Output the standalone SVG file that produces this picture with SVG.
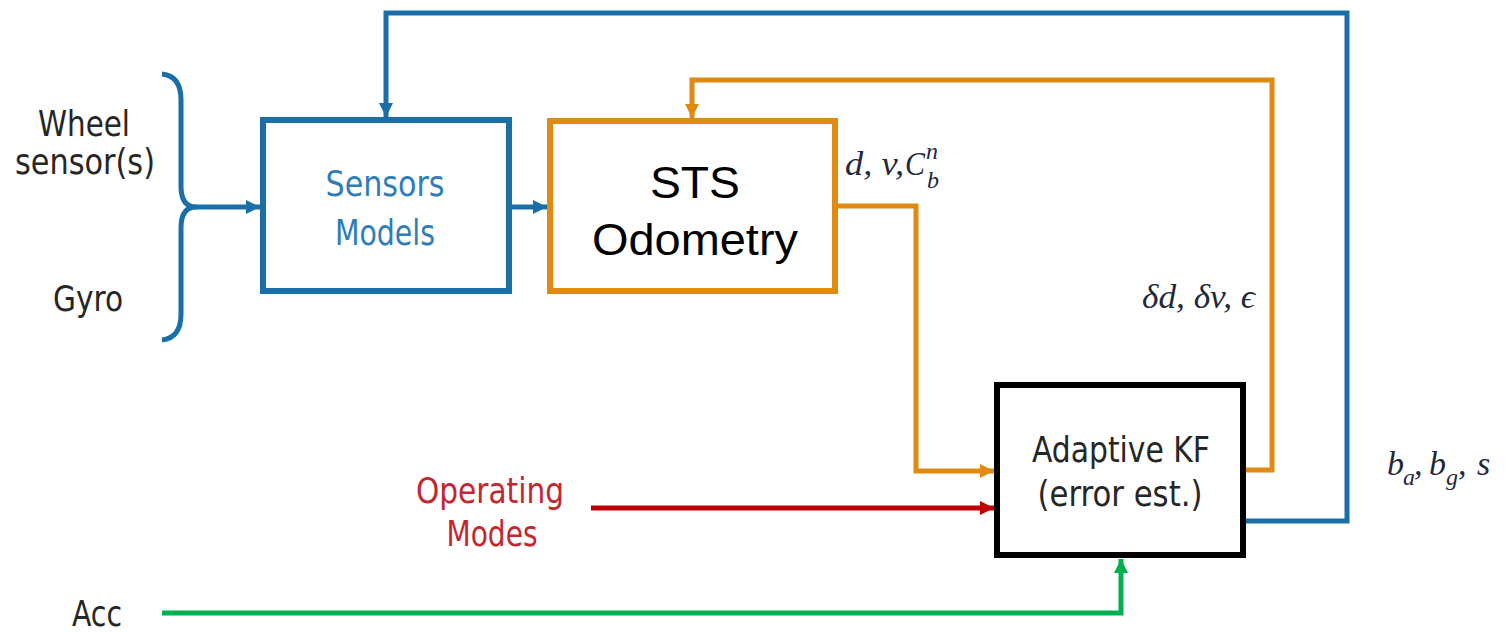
<svg xmlns="http://www.w3.org/2000/svg" width="1507" height="632" viewBox="0 0 1507 632">
<style>
.lbl{font-family:"DejaVu Sans Condensed","DejaVu Sans",sans-serif;font-size:36px;fill:#262626}
.blue{fill:#2e7db8}
.red{fill:#c3262e}
.sts{font-family:"Liberation Sans",Arial,sans-serif;font-size:45px;fill:#000}
.math{font-family:"Liberation Serif","DejaVu Serif",serif;font-style:italic;font-size:34px;fill:#1f2a3a}
.msub{font-family:"Liberation Serif","DejaVu Serif",serif;font-style:italic;font-size:24px;fill:#1f2a3a}
.c{fill:none;stroke-width:5;stroke-linejoin:miter}
.cb{stroke:#1a6fa8}
.co{stroke:#e08a12}
.cr{stroke:#c00000}
.cg{stroke:#00b04f}
.box{fill:#fff;stroke-width:6}
</style>
<defs>
<marker id="ab" viewBox="0 0 10 10" refX="10" refY="5" markerUnits="userSpaceOnUse" markerWidth="15" markerHeight="14" orient="auto"><path d="M0,0L10,5L0,10z" fill="#1a6fa8"/></marker>
<marker id="ao" viewBox="0 0 10 10" refX="10" refY="5" markerUnits="userSpaceOnUse" markerWidth="15" markerHeight="14" orient="auto"><path d="M0,0L10,5L0,10z" fill="#e08a12"/></marker>
<marker id="ar" viewBox="0 0 10 10" refX="10" refY="5" markerUnits="userSpaceOnUse" markerWidth="15" markerHeight="14" orient="auto"><path d="M0,0L10,5L0,10z" fill="#c00000"/></marker>
<marker id="ag" viewBox="0 0 10 10" refX="10" refY="5" markerUnits="userSpaceOnUse" markerWidth="15" markerHeight="14" orient="auto"><path d="M0,0L10,5L0,10z" fill="#00b04f"/></marker>
</defs>
<rect width="1507" height="632" fill="#fff"/>

<g id="inputs">
<text class="lbl" x="84" y="136" text-anchor="middle" textLength="92" lengthAdjust="spacingAndGlyphs">Wheel</text>
<text class="lbl" x="85" y="174" text-anchor="middle" textLength="140" lengthAdjust="spacingAndGlyphs">sensor(s)</text>
<text class="lbl" x="88" y="311" text-anchor="middle" textLength="70" lengthAdjust="spacingAndGlyphs">Gyro</text>
<path class="c cb" stroke-width="6" d="M162,74 Q181,76 181,100 L181,186 Q181,207 196,207 Q181,207 181,228 L181,314 Q181,338 162,340"/>
</g>

<g id="acc">
<text class="lbl" x="97" y="626" text-anchor="middle" textLength="50" lengthAdjust="spacingAndGlyphs">Acc</text>
</g>

<g id="operating-modes">
<text class="lbl red" x="490" y="503" text-anchor="middle" textLength="148" lengthAdjust="spacingAndGlyphs">Operating</text>
<text class="lbl red" x="492" y="546" text-anchor="middle" textLength="91" lengthAdjust="spacingAndGlyphs">Modes</text>
</g>

<g id="sensors-models">
<rect class="box" x="263" y="120" width="246" height="171" stroke="#1a6fa8"/>
<text class="lbl blue" x="385" y="196" text-anchor="middle" textLength="119" lengthAdjust="spacingAndGlyphs">Sensors</text>
<text class="lbl blue" x="385" y="245" text-anchor="middle" textLength="100" lengthAdjust="spacingAndGlyphs">Models</text>
</g>

<g id="sts-odometry">
<rect class="box" x="550" y="121" width="285" height="170" stroke="#e08a12"/>
<text class="sts" x="695" y="198" text-anchor="middle" textLength="90" lengthAdjust="spacingAndGlyphs">STS</text>
<text class="sts" x="695" y="255" text-anchor="middle" textLength="206" lengthAdjust="spacingAndGlyphs">Odometry</text>
</g>

<g id="adaptive-kf">
<rect class="box" x="997" y="385" width="246" height="170" stroke="#000" stroke-width="7"/>
<text class="lbl" x="1121" y="462" text-anchor="middle" textLength="178" lengthAdjust="spacingAndGlyphs">Adaptive KF</text>
<text class="lbl" x="1120" y="506" text-anchor="middle" textLength="165" lengthAdjust="spacingAndGlyphs">(error est.)</text>
</g>

<g id="connectors">
<path class="c cb" d="M194,207 L260,207" marker-end="url(#ab)"/>
<path class="c cb" d="M509,207 L547,207" marker-end="url(#ab)"/>
<path class="c co" d="M838,206 L916,206 L916,471 L994,471" marker-end="url(#ao)"/>
<path class="c cr" d="M591,508 L994,508" marker-end="url(#ar)"/>
<path class="c cg" d="M162,613 L1121,613 L1121,559" marker-end="url(#ag)"/>
<path class="c co" d="M1246,470 L1272,470 L1272,80 L692,80 L692,118" marker-end="url(#ao)"/>
<path class="c cb" d="M1246,521 L1347,521 L1347,13 L386,13 L386,117" marker-end="url(#ab)"/>
</g>

<g id="labels">
<text class="math" x="845" y="175" textLength="59" lengthAdjust="spacingAndGlyphs">d, v,</text>
<text class="math" x="905" y="175" textLength="20" lengthAdjust="spacingAndGlyphs">C</text>
<text class="msub" x="926" y="159">n</text>
<text class="msub" x="927" y="188">b</text>
<text class="math" x="1142" y="308" textLength="113" lengthAdjust="spacingAndGlyphs">δd, δv, ϵ</text>
<text class="math" x="1387" y="475">b</text>
<text class="msub" x="1403" y="485">a</text>
<text class="math" x="1414" y="475">,</text>
<text class="math" x="1429" y="475">b</text>
<text class="msub" x="1446" y="485">g</text>
<text class="math" x="1458" y="475">,</text>
<text class="math" x="1477" y="475">s</text>
</g>
</svg>
